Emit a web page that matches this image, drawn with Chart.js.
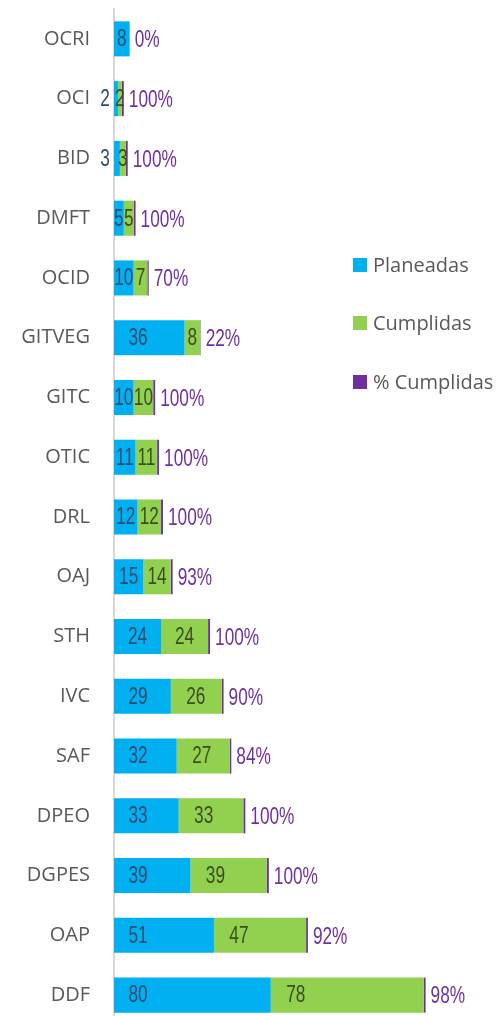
<!DOCTYPE html>
<html>
<head>
<meta charset="utf-8">
<script src="https://cdn.jsdelivr.net/npm/chart.js@4/dist/chart.umd.min.js"></script>
<style>
    html, body { margin: 0; padding: 0; background: #fff; overflow: hidden; }
    #wrap { width: 500px; height: 1034px; }
</style>
</head>
<body>
<div id="wrap"><canvas id="metasChart" width="500" height="1034"></canvas></div>
<script>
const categories = ['OCRI', 'OCI', 'BID', 'DMFT', 'OCID', 'GITVEG', 'GITC', 'OTIC', 'DRL', 'OAJ',
    'STH', 'IVC', 'SAF', 'DPEO', 'DGPES', 'OAP', 'DDF'];
const planeadas = [8, 2, 3, 5, 10, 36, 10, 11, 12, 15, 24, 29, 32, 33, 39, 51, 80];
const cumplidas = [0, 2, 3, 5, 7, 8, 10, 11, 12, 14, 24, 26, 27, 33, 39, 47, 78];
const pctCumplidas = [0, 1, 1, 1, 0.70, 0.22, 1, 1, 1, 0.93, 1, 0.90, 0.84, 1, 1, 0.92, 0.98];
const seriesNames = ['Planeadas', 'Cumplidas', '% Cumplidas'];
const seriesColors = ['#00b0f0', '#92d050', '#7030a0'];

document.addEventListener('DOMContentLoaded', () => {
    const textFont = "'Open Sans', 'Noto Sans', sans-serif";
    const narrow = 0.75; // Arial Narrow ~ Arial escalada en horizontal

    // texto estrecho: se escala el contexto en x
    function narrowText(ctx, txt, x, y, align) {
        ctx.save();
        ctx.translate(x, y);
        ctx.scale(narrow, 1);
        ctx.textAlign = align;
        ctx.fillText(txt, 0, 0);
        ctx.restore();
    }

    // etiquetas de datos (tipo Excel: base interior / fuera del extremo)
    const labelsPlugin = {
        id: 'barLabels',
        afterDatasetsDraw(chart) {
            const ctx = chart.ctx;
            ctx.save();
            ctx.font = "23px 'Liberation Sans', Arial, sans-serif";
            ctx.textBaseline = 'middle';

            chart.getDatasetMeta(0).data.forEach((bar, i) => {
                const v = planeadas[i];
                if (!v) return;
                const w = bar.x - bar.base;
                const cx = w < 8 ? bar.base - 9 : bar.base + Math.min(24, w / 2);
                ctx.fillStyle = '#2b4c74';
                narrowText(ctx, String(v), cx, bar.y + 1, 'center');
            });

            chart.getDatasetMeta(1).data.forEach((bar, i) => {
                const v = cumplidas[i];
                if (!v) return;
                const w = bar.x - bar.base;
                ctx.fillStyle = '#3b4d20';
                narrowText(ctx, String(v), bar.base + Math.min(25, w / 2), bar.y + 1, 'center');
            });

            chart.getDatasetMeta(2).data.forEach((bar, i) => {
                ctx.fillStyle = '#7030a0';
                narrowText(ctx, Math.round(pctCumplidas[i] * 100) + '%', bar.x + 5, bar.y + 2, 'left');
            });
            ctx.restore();
        }
    };

    // leyenda a la derecha
    const legendPlugin = {
        id: 'sideLegend',
        afterDraw(chart) {
            const ctx = chart.ctx;
            const ys = [265, 323, 382];
            ctx.save();
            ctx.font = '20px ' + textFont;
            ctx.textBaseline = 'middle';
            ctx.textAlign = 'left';
            seriesNames.forEach((name, i) => {
                ctx.fillStyle = seriesColors[i];
                ctx.fillRect(353, ys[i] - 7, 14, 14);
                ctx.fillStyle = '#595959';
                ctx.fillText(name, 373, ys[i] + 1);
            });
            ctx.restore();
        }
    };

    const data = {
        labels: categories,
        datasets: [
            { label: seriesNames[0], data: planeadas, backgroundColor: seriesColors[0] },
            { label: seriesNames[1], data: cumplidas, backgroundColor: seriesColors[1] },
            { label: seriesNames[2], data: pctCumplidas, backgroundColor: seriesColors[2] }
        ]
    };

    const config = {
        type: 'bar',
        data: data,
        options: {
            indexAxis: 'y',
            responsive: false,
            animation: false,
            layout: { padding: { top: 0, right: 43, bottom: 0, left: 0 } },
            datasets: {
                bar: { categoryPercentage: 1, barPercentage: 0.586, borderWidth: 0 }
            },
            scales: {
                x: {
                    stacked: true,
                    display: false,
                    min: 0,
                    max: 175
                },
                y: {
                    stacked: true,
                    afterFit(scale) { scale.width = 114; },
                    grid: {
                        display: true,
                        drawOnChartArea: false,
                        drawTicks: true,
                        tickLength: 24,
                        tickColor: 'rgba(0,0,0,0)'
                    },
                    border: { display: true, color: '#d9d9d9', width: 2 },
                    ticks: {
                        padding: 0,
                        color: '#595959',
                        font: { family: textFont, size: 20, lineHeight: 0.9 }
                    }
                }
            },
            plugins: {
                legend: { display: false },
                tooltip: { enabled: false }
            }
        },
        plugins: [labelsPlugin, legendPlugin]
    };

    const ctx = document.getElementById('metasChart').getContext('2d');
    new Chart(ctx, config);
});
</script>
</body>
</html>
